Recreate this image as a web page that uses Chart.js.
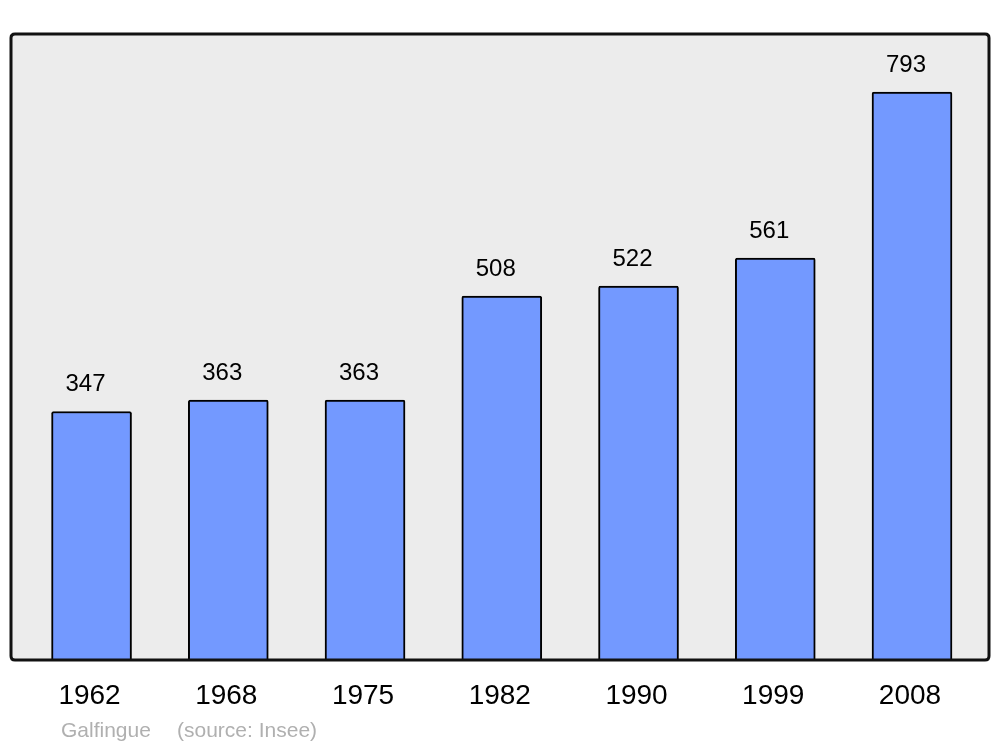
<!doctype html>
<html>
<head>
  <meta charset="utf-8">
  <title>Galfingue population</title>
  <style>
    html, body { margin: 0; padding: 0; background: #fff; }
    #wrap { width: 1000px; height: 747px; position: relative; }
  </style>
</head>
<body>
  <div id="wrap"><canvas id="myChart" width="1000" height="747"></canvas></div>

  <script src="https://cdn.jsdelivr.net/npm/chart.js@4/dist/chart.umd.min.js"></script>
  <script>
  // data
  const years = ['1962', '1968', '1975', '1982', '1990', '1999', '2008'];
  const population = [347, 363, 363, 508, 522, 561, 793];
  const footerName = 'Galfingue';
  const footerSource = '(source: Insee)';

  const FONT = '"Liberation Sans", Arial, sans-serif';

  function roundRect(ctx, x, y, w, h, r) {
    ctx.beginPath();
    ctx.moveTo(x + r, y);
    ctx.lineTo(x + w - r, y);
    ctx.quadraticCurveTo(x + w, y, x + w, y + r);
    ctx.lineTo(x + w, y + h - r);
    ctx.quadraticCurveTo(x + w, y + h, x + w - r, y + h);
    ctx.lineTo(x + r, y + h);
    ctx.quadraticCurveTo(x, y + h, x, y + h - r);
    ctx.lineTo(x, y + r);
    ctx.quadraticCurveTo(x, y, x + r, y);
    ctx.closePath();
  }

  const framePlugin = {
    id: 'frame',
    beforeDatasetsDraw(chart) {
      const a = chart.chartArea, ctx = chart.ctx;
      ctx.save();
      roundRect(ctx, a.left, a.top, a.right - a.left, a.bottom - a.top, 4);
      ctx.fillStyle = '#ececec';
      ctx.fill();
      ctx.restore();
    },
    afterDatasetsDraw(chart) {
      const a = chart.chartArea, ctx = chart.ctx;
      const xs = chart.scales.x, ys = chart.scales.y;
      ctx.save();
      roundRect(ctx, a.left, a.top, a.right - a.left, a.bottom - a.top, 4);
      ctx.lineWidth = 3;
      ctx.strokeStyle = '#111';
      ctx.stroke();

      ctx.fillStyle = '#000';
      ctx.textAlign = 'center';
      ctx.textBaseline = 'middle';
      // value labels above each bar
      ctx.font = '24px ' + FONT;
      population.forEach((v, i) => {
        ctx.fillText(String(v), xs.getPixelForValue(i) - 6, ys.getPixelForValue(v) - 27);
      });
      // year labels under the frame
      ctx.font = '28px ' + FONT;
      years.forEach((y, i) => {
        ctx.fillText(y, xs.getPixelForValue(i) - 2, a.bottom + 36);
      });
      // footer
      ctx.textAlign = 'left';
      ctx.fillStyle = '#b0b0b0';
      ctx.font = '21px ' + FONT;
      ctx.fillText(footerName, 61, 731);
      ctx.fillText(footerSource, 177, 731);
      ctx.restore();
    }
  };

  new Chart(document.getElementById('myChart'), {
    type: 'bar',
    data: {
      datasets: [{
        data: population.map((v, i) => ({ x: i, y: v })),
        backgroundColor: '#7399ff',
        borderColor: '#000',
        borderWidth: 2,
        borderRadius: 2,
        borderSkipped: 'bottom',
        barThickness: 80
      }]
    },
    options: {
      responsive: false,
      animation: false,
      devicePixelRatio: 1,
      layout: { padding: { left: 11, top: 34, right: 11, bottom: 87 } },
      plugins: { legend: { display: false }, tooltip: { enabled: false } },
      scales: {
        x: { type: 'linear', display: false, offset: false, min: -0.589, max: 6.563 },
        y: { display: false, min: 0, max: 874 }
      }
    },
    plugins: [framePlugin]
  });
  </script>
</body>
</html>
